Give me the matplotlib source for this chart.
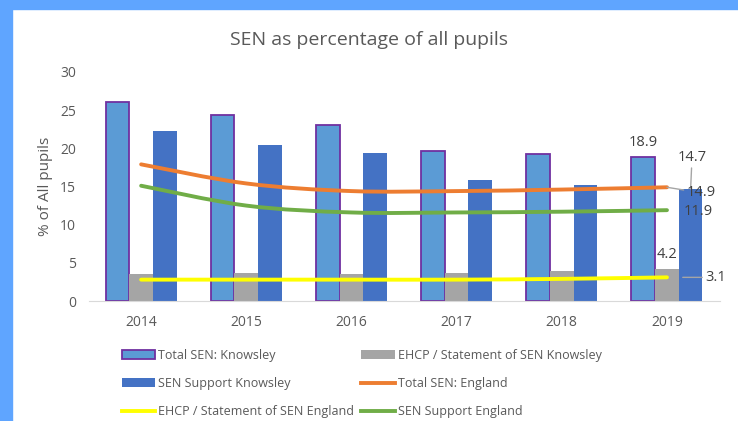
import matplotlib
matplotlib.use("Agg")
import matplotlib.pyplot as plt
import matplotlib.patches as mpatches
from matplotlib.path import Path
from matplotlib.lines import Line2D
import numpy as np

plt.rcParams["font.family"] = ["Open Sans", "DejaVu Sans"]

years = ["2014", "2015", "2016", "2017", "2018", "2019"]
total_knowsley = [26.1, 24.4, 23.1, 19.6, 19.2, 18.9]
ehcp_knowsley = [3.6, 3.7, 3.6, 3.7, 3.9, 4.2]
support_knowsley = [22.3, 20.5, 19.4, 15.8, 15.2, 14.7]
total_england = [17.9, 15.4, 14.4, 14.4, 14.6, 14.9]
ehcp_england = [2.8, 2.8, 2.8, 2.8, 2.9, 3.1]
support_england = [15.1, 12.5, 11.6, 11.6, 11.7, 11.9]

TXT = "#595959"


def smooth_path(xs, ys):
    # Excel-style smoothed line as cubic bezier segments (catmull-rom control points)
    pts = list(zip(xs, ys))
    verts = [pts[0]]
    codes = [Path.MOVETO]
    for i in range(len(pts) - 1):
        p0 = pts[i - 1] if i > 0 else pts[i]
        p1, p2 = pts[i], pts[i + 1]
        p3 = pts[i + 2] if i + 2 < len(pts) else pts[i + 1]
        c1 = (p1[0] + (p2[0] - p0[0]) / 6, p1[1] + (p2[1] - p0[1]) / 6)
        c2 = (p2[0] - (p3[0] - p1[0]) / 6, p2[1] - (p3[1] - p1[1]) / 6)
        verts += [c1, c2, p2]
        codes += [Path.CURVE4] * 3
    return Path(verts, codes)


fig = plt.figure(figsize=(7.38, 4.21), dpi=100)
fig.patch.set_facecolor("white")
# blue frame strip (top and left) from the screenshot
fig.patches.append(mpatches.Rectangle((0, 1 - 9 / 421), 1, 9 / 421, transform=fig.transFigure,
                                      color="#5fa5ff", zorder=0))
fig.patches.append(mpatches.Rectangle((0, 0), 12 / 738, 1, transform=fig.transFigure,
                                      color="#5fa5ff", zorder=0))

ax = fig.add_axes([0.12, 0.285, 0.855, 0.544])
x = np.arange(len(years))
w = 0.225

b1 = ax.bar(x - w, total_knowsley, w, color="#5b9bd5", edgecolor="#7030a0", linewidth=1.3,
            label="Total SEN: Knowsley", zorder=2)
b2 = ax.bar(x, ehcp_knowsley, w, color="#a5a5a5", label="EHCP / Statement of SEN Knowsley", zorder=2)
b3 = ax.bar(x + w, support_knowsley, w, color="#4472c4", label="SEN Support Knowsley", zorder=2)

line_specs = [
    (total_england, "#ed7d31", "Total SEN: England"),
    (ehcp_england, "#ffff00", "EHCP / Statement of SEN England"),
    (support_england, "#70ad47", "SEN Support England"),
]
handles_l = {}
for vals, col, lab in line_specs:
    ax.add_patch(mpatches.PathPatch(smooth_path(x, vals), fill=False, edgecolor=col,
                                    linewidth=2.8, capstyle="round", zorder=3))
    handles_l[lab] = Line2D([], [], color=col, linewidth=2.8, label=lab)

ax.set_xlim(-0.5, 5.5)
ax.set_ylim(0, 30)
ax.set_yticks(range(0, 31, 5))
ax.set_xticks(x)
ax.set_xticklabels(years)
ax.tick_params(axis="both", length=0, colors=TXT, labelsize=10)
ax.tick_params(axis="y", pad=9)
ax.tick_params(axis="x", pad=10)
for s in ["top", "right", "left"]:
    ax.spines[s].set_visible(False)
ax.spines["bottom"].set_color("#d9d9d9")
ax.set_ylabel("% of All pupils", color=TXT, fontsize=11, labelpad=5)

# data labels for 2019
i = 5
lab_kw = dict(color="#404040", fontsize=10.5, zorder=5)
lead = dict(arrowstyle="-", color="#a5a5a5", lw=1, shrinkA=0, shrinkB=0)
ax.annotate(f"{total_knowsley[i]}", (x[i] - w, total_knowsley[i]), xytext=(0, 5),
            textcoords="offset points", ha="center", va="bottom", **lab_kw)
ax.annotate(f"{ehcp_knowsley[i]}", (x[i], ehcp_knowsley[i]), xytext=(0, 5),
            textcoords="offset points", ha="center", va="bottom", **lab_kw)
ax.annotate(f"{support_knowsley[i]}", (x[i] + w, support_knowsley[i]), xytext=(1, 17),
            textcoords="offset points", ha="center", va="bottom", arrowprops=lead, **lab_kw)
ax.annotate(f"{total_england[i]}", (x[i], total_england[i]), xytext=(14, -4),
            textcoords="offset points", ha="left", va="center", arrowprops=lead, **lab_kw)
ax.annotate(f"{support_england[i]}", (x[i], support_england[i]), xytext=(12, -1),
            textcoords="offset points", ha="left", va="center", **lab_kw)
ax.annotate(f"{ehcp_england[i]}", (x[i] + 0.15, ehcp_england[i]), xytext=(16, 0),
            textcoords="offset points", ha="left", va="center", arrowprops=lead, **lab_kw)

fig.text(0.5, 0.905, "SEN as percentage of all pupils", ha="center", va="center",
         color=TXT, fontsize=14)

handles = [b1, b3, handles_l["EHCP / Statement of SEN England"],
           b2, handles_l["Total SEN: England"], handles_l["SEN Support England"]]
fig.legend(handles=handles, labels=[h.get_label() for h in handles], ncol=2,
           loc="upper left", bbox_to_anchor=(0.158, 0.183), frameon=False,
           fontsize=9, labelcolor=TXT, handlelength=2.7, handleheight=0.7,
           handletextpad=0.2, columnspacing=0.6, labelspacing=1.2, borderaxespad=0)

fig.savefig("out.png", dpi=100)
